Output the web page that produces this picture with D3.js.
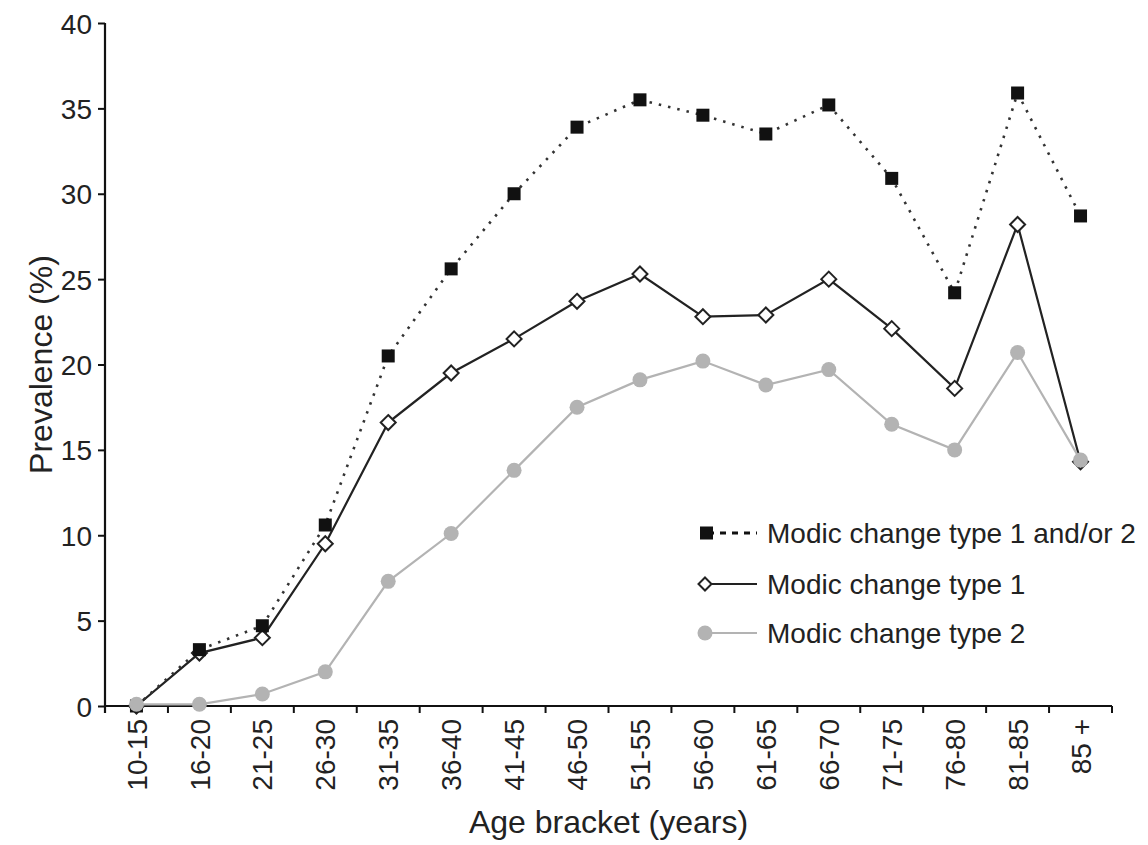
<!DOCTYPE html>
<html>
<head>
<meta charset="utf-8">
<script src="https://cdn.jsdelivr.net/npm/d3@7"></script>
<style>
  html, body { margin: 0; padding: 0; background: #fff; }
  text { font-family: "Liberation Sans", Arial, sans-serif; fill: #222; }
</style>
</head>
<body>
<svg id="chart" width="1148" height="845"></svg>
<script>
const categories = ["10-15","16-20","21-25","26-30","31-35","36-40","41-45","46-50","51-55","56-60","61-65","66-70","71-75","76-80","81-85","85 +"];
const seriesBoth  = [0, 3.3, 4.7, 10.6, 20.5, 25.6, 30.0, 33.9, 35.5, 34.6, 33.5, 35.2, 30.9, 24.2, 35.9, 28.7];
const seriesType1 = [0, 3.1, 4.0, 9.5, 16.6, 19.5, 21.5, 23.7, 25.3, 22.8, 22.9, 25.0, 22.1, 18.6, 28.2, 14.3];
const seriesType2 = [0.1, 0.1, 0.7, 2.0, 7.3, 10.1, 13.8, 17.5, 19.1, 20.2, 18.8, 19.7, 16.5, 15.0, 20.7, 14.4];
const yTicks = [0, 5, 10, 15, 20, 25, 30, 35, 40];
const legendLabels = ["Modic change type 1 and/or 2", "Modic change type 1", "Modic change type 2"];
const xTitle = "Age bracket (years)";
const yTitle = "Prevalence (%)";

(function () {
const svg = d3.select("#chart");
const pL = 105, pR = 1112, pT = 23, pB = 706;
const gray = "#b3b3b3";

const x = d3.scaleBand().domain(categories).range([pL, pR]).padding(0);
const y = d3.scaleLinear().domain([0, 40]).range([pB, pT]);
const cx = c => x(c) + x.bandwidth() / 2;

// Y axis
const yAxis = svg.append("g").attr("transform", `translate(${pL},0)`)
  .call(d3.axisLeft(y).tickValues(yTicks).tickSize(7).tickPadding(6).tickSizeOuter(0));
yAxis.select(".domain").attr("stroke", "#111").attr("stroke-width", 2.2).attr("d", `M0,${pT}V${pB + 7}`);
yAxis.selectAll(".tick line").attr("stroke", "#111").attr("stroke-width", 2);
yAxis.selectAll(".tick text").attr("font-size", 28).attr("dy", "0.36em").style("font-family", "Liberation Sans, Arial, sans-serif").attr("fill", "#222");

// X axis with ticks at band boundaries
const xAxisG = svg.append("g").attr("transform", `translate(0,${pB})`);
xAxisG.append("line").attr("x1", pL).attr("x2", pR).attr("y1", 0).attr("y2", 0)
  .attr("stroke", "#111").attr("stroke-width", 2.2);
const boundaries = categories.map(c => x(c) + x.bandwidth());
xAxisG.selectAll("line.tk").data(boundaries).enter().append("line").attr("class", "tk")
  .attr("x1", d => d).attr("x2", d => d).attr("y1", 0).attr("y2", 7)
  .attr("stroke", "#111").attr("stroke-width", 2);
xAxisG.selectAll("text.lbl").data(categories).enter().append("text").attr("class", "lbl")
  .attr("transform", d => `translate(${cx(d)},13) rotate(-90)`)
  .attr("text-anchor", "end").attr("dy", "0.36em").attr("font-size", 28).text(d => d);

// Axis titles
svg.append("text").attr("x", (pL + pR) / 2).attr("y", 833).attr("text-anchor", "middle")
  .attr("font-size", 32).text(xTitle);
svg.append("text").attr("transform", `translate(52,${(pT + pB) / 2}) rotate(-90)`)
  .attr("text-anchor", "middle").attr("font-size", 32).text(yTitle);

const line = d3.line().x((d, i) => cx(categories[i])).y(d => y(d));

// Type 1 (black solid, diamonds)
svg.append("path").datum(seriesType1).attr("d", line).attr("fill", "none")
  .attr("stroke", "#222").attr("stroke-width", 2.2);
// Type 1 and/or 2 (dotted black, squares)
svg.append("path").datum(seriesBoth).attr("d", line).attr("fill", "none")
  .attr("stroke", "#333").attr("stroke-width", 2.6).attr("stroke-dasharray", "2.5,7");

const diamond = (g, px, py, s) => g.append("path")
  .attr("d", `M${px},${py - s}L${px + s},${py}L${px},${py + s}L${px - s},${py}Z`)
  .attr("fill", "#fff").attr("stroke", "#222").attr("stroke-width", 2);

const dg = svg.append("g");
seriesType1.forEach((v, i) => diamond(dg, cx(categories[i]), y(v), 7.5));

svg.append("g").selectAll("rect").data(seriesBoth).enter().append("rect")
  .attr("x", (d, i) => cx(categories[i]) - 6.5).attr("y", d => y(d) - 6.5)
  .attr("width", 13).attr("height", 13).attr("fill", "#111");

// Type 2 (gray, circles)
svg.append("path").datum(seriesType2).attr("d", line).attr("fill", "none")
  .attr("stroke", gray).attr("stroke-width", 2.2);
svg.append("g").selectAll("circle").data(seriesType2).enter().append("circle")
  .attr("cx", (d, i) => cx(categories[i])).attr("cy", d => y(d)).attr("r", 7.5).attr("fill", gray);

// Legend
const lg = svg.append("g");
const rows = [533, 584, 633];
const sx0 = 700, sx1 = 757, tx = 767;
lg.append("line").attr("x1", sx0 + 8).attr("x2", sx1).attr("y1", rows[0]).attr("y2", rows[0])
  .attr("stroke", "#111").attr("stroke-width", 3.2).attr("stroke-dasharray", "6,6");
lg.append("rect").attr("x", sx0).attr("y", rows[0] - 6.5).attr("width", 13).attr("height", 13).attr("fill", "#111");
lg.append("line").attr("x1", sx0).attr("x2", sx1).attr("y1", rows[1]).attr("y2", rows[1])
  .attr("stroke", "#222").attr("stroke-width", 2.2);
diamond(lg, sx0 + 5, rows[1], 6.5);
lg.append("line").attr("x1", sx0).attr("x2", sx1).attr("y1", rows[2]).attr("y2", rows[2])
  .attr("stroke", gray).attr("stroke-width", 2.2);
lg.append("circle").attr("cx", sx0 + 5).attr("cy", rows[2]).attr("r", 7.5).attr("fill", gray);

lg.selectAll("text").data(legendLabels).enter().append("text")
  .attr("x", tx).attr("y", (d, i) => rows[i]).attr("dy", "0.36em")
  .attr("font-size", 28).text(d => d);
})();
</script>
</body>
</html>
